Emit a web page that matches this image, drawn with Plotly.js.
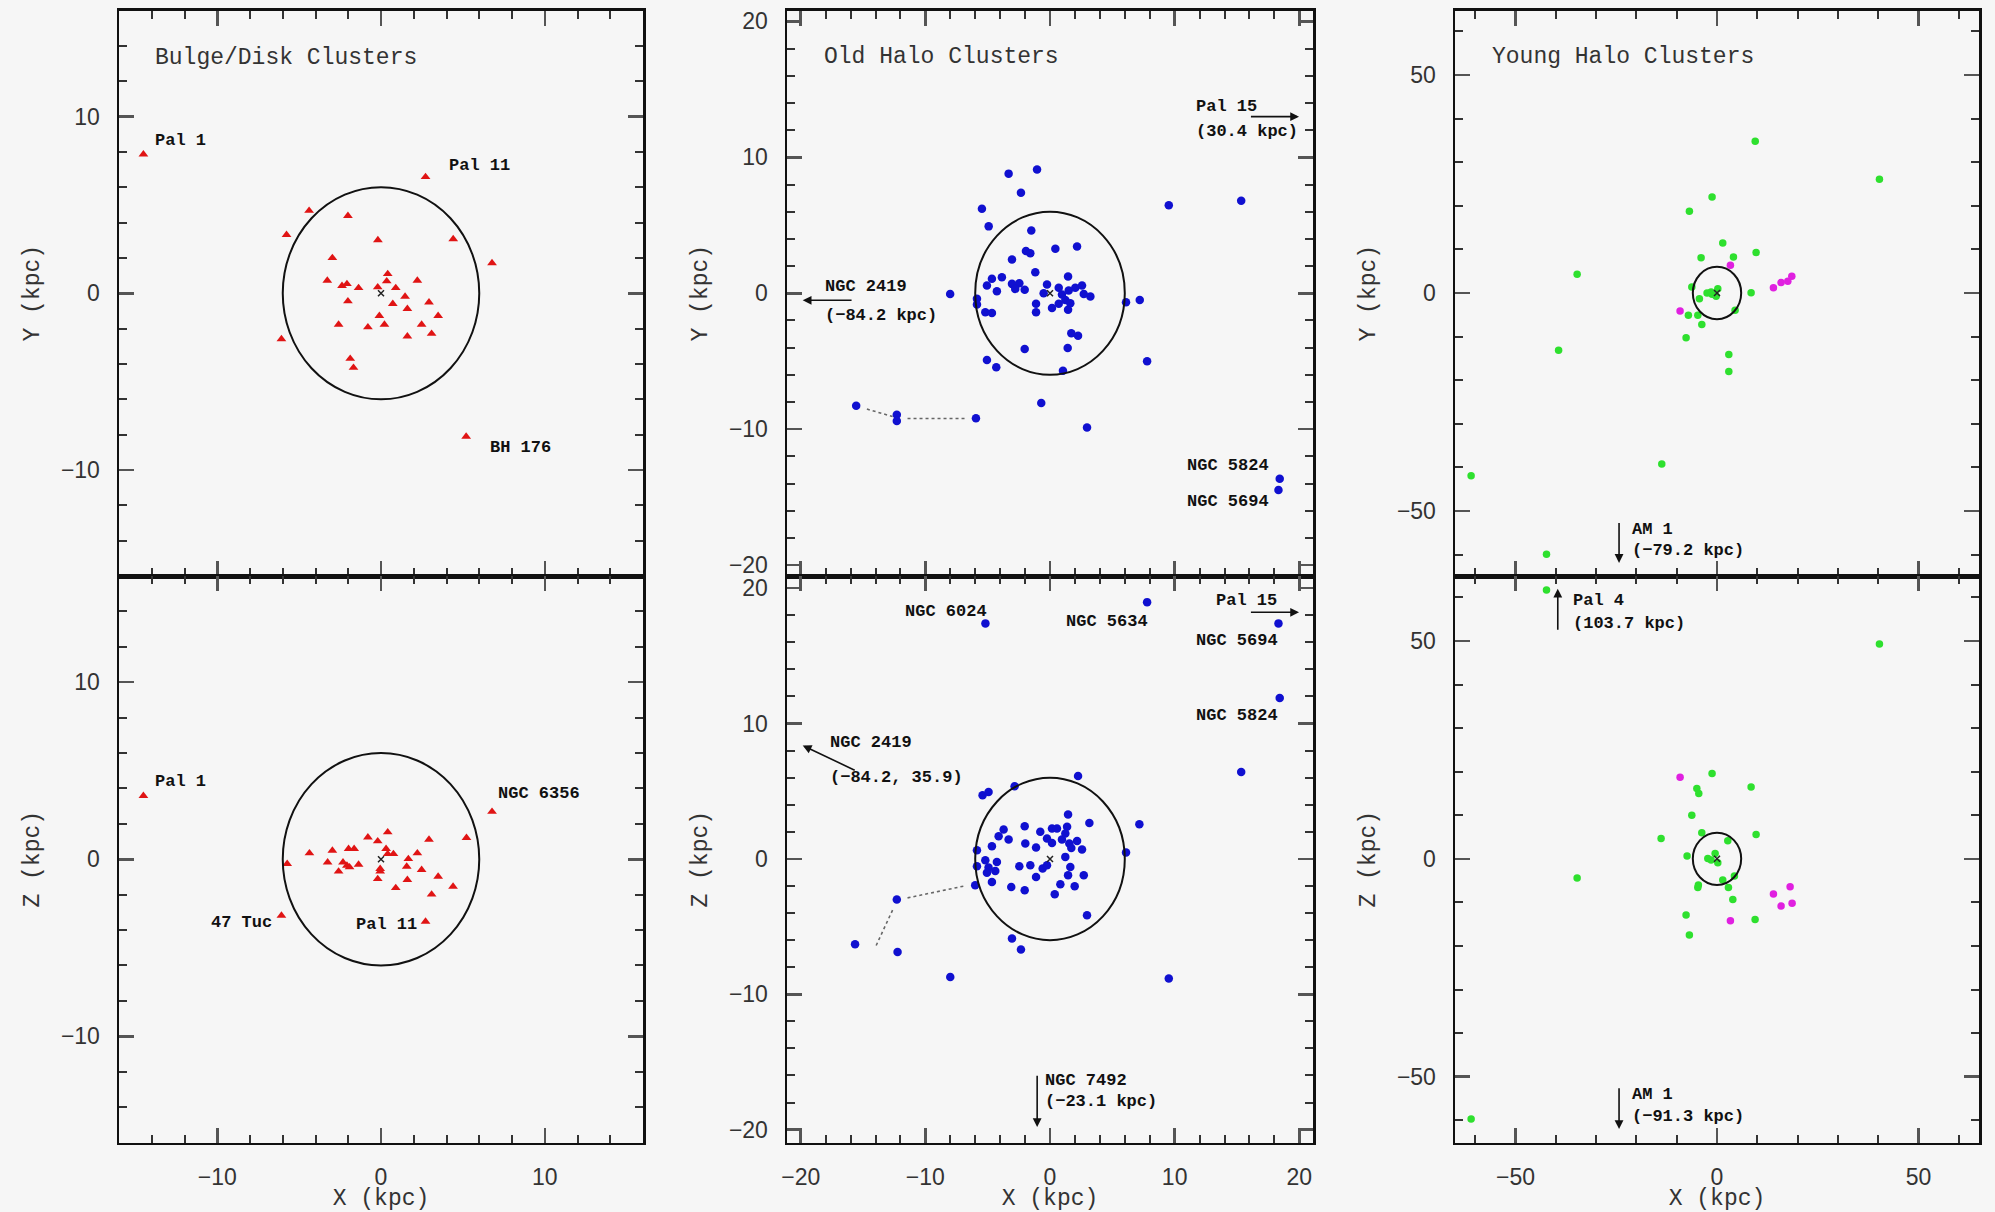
<!DOCTYPE html>
<html><head><meta charset="utf-8">
<script src="https://cdn.plot.ly/plotly-3.0.1.min.js"></script>
<style>html,body{margin:0;padding:0;background:#f6f6f6;} #chart{width:1995px;height:1212px;}</style>
</head><body><div id="chart"></div>
<script>
// ---------- DATA (kpc) ----------
// Bulge/Disk clusters
const bulgeXY_x = [2.72, -4.39, -2.02, -5.77, -0.19, 4.41, 6.78, -2.97, -3.28, -2.38, -2.08, -1.37, -0.20, 0.41, 0.35, 0.90, 2.22, 1.47, 2.93, -2.02, 0.72, 1.61, 3.49, -0.10, -2.59, -0.80, 0.21, 2.48, 3.09, 1.61, -6.08, -1.88, -1.68, -14.51, 5.20];
const bulgeXY_y = [6.58, 4.67, 4.38, 3.31, 3.01, 3.07, 1.71, 2.00, 0.72, 0.42, 0.53, 0.30, 0.34, 1.09, 0.68, 0.30, 0.72, -0.19, -0.51, -0.45, -0.60, -0.88, -1.28, -1.28, -1.77, -1.92, -1.77, -1.77, -2.29, -2.44, -2.59, -3.70, -4.21, 7.86, -8.11];
const bulgeXZ_x = [6.78, 0.41, -0.80, -0.20, 2.93, 5.22, -2.97, -1.98, -1.64, -4.37, 0.31, 0.41, 0.76, 2.22, -5.73, -3.26, -2.32, -2.08, -1.92, -1.37, -2.59, 1.67, 1.57, -0.05, -0.05, 2.48, -0.20, 1.61, 3.49, 4.40, 0.90, 3.09, 2.72, -6.08, -14.51];
const bulgeXZ_z = [2.69, 1.53, 1.24, 1.02, 1.11, 1.21, 0.49, 0.59, 0.59, 0.34, 0.59, 0.30, 0.30, 0.34, -0.26, -0.17, -0.17, -0.36, -0.45, -0.30, -0.69, 0.02, -0.41, -0.54, -0.69, -0.60, -1.11, -1.16, -0.98, -1.54, -1.62, -1.99, -3.52, -3.18, 3.58];

// Old halo clusters
const oldXY_x = [-3.32, -1.04, -2.33, -5.46, 9.53, -4.92, -1.50, -1.93, -1.58, 0.43, 2.17, -3.05, -1.18, 1.45, -4.66, -3.86, -5.06, -4.26, -3.05, -2.46, -2.03, -2.79, -8.01, -5.86, -5.86, -0.24, -0.51, 0.70, 0.96, 1.50, 2.03, 2.57, 3.24, 2.71, 1.23, 1.63, 0.70, 0.16, 1.45, -1.12, -1.12, -5.19, -4.66, 6.10, 7.20, 1.71, 2.25, -2.03, 1.42, -5.06, -4.31, 7.79, 1.04, -0.70, -5.94, 2.97, 15.34, 18.43, 18.33, -15.55, -12.29, -12.29];
const oldXY_y = [8.80, 9.10, 7.40, 6.22, 6.47, 4.92, 4.62, 3.10, 2.95, 3.27, 3.44, 2.49, 1.55, 1.23, 1.06, 1.18, 0.57, 0.15, 0.69, 0.74, 0.25, 0.32, -0.05, -0.41, -0.83, 0.64, 0.00, 0.40, -0.10, 0.20, 0.40, 0.57, -0.24, -0.05, -0.49, -0.74, -0.78, -1.08, -1.22, -0.78, -1.40, -1.40, -1.45, -0.66, -0.49, -2.95, -3.12, -4.10, -4.03, -4.91, -5.45, -5.01, -5.70, -8.08, -9.19, -9.88, 6.80, -13.65, -14.48, -8.27, -8.94, -9.40];
const oldXZ_x = [2.25, -2.84, -5.41, -4.93, 1.45, 3.16, 7.17, -3.72, -2.03, -4.12, -3.32, -0.78, 0.16, 0.56, 1.37, -0.24, 0.16, 0.96, 1.23, 1.55, 2.17, 1.71, 2.57, -1.98, -1.12, -4.66, -5.86, 1.23, 6.10, -5.19, -4.26, -5.86, -4.93, -4.39, -5.06, -2.46, -1.58, -0.59, -0.24, -1.12, 1.63, 1.45, 2.71, -4.66, -6.00, -3.11, -2.03, 0.83, 1.98, 0.38, 2.97, -12.29, -15.64, -12.23, -3.05, -2.33, -8.00, 9.53, -5.18, 7.79, 18.33, 18.43, 15.34];
const oldXZ_z = [6.13, 5.37, 4.71, 4.95, 3.28, 2.66, 2.56, 2.17, 2.42, 1.68, 1.43, 2.00, 2.25, 2.25, 2.37, 1.51, 1.18, 1.43, 1.88, 1.14, 1.33, 0.81, 0.69, 1.14, 0.84, 0.94, 0.64, 0.15, 0.47, -0.10, -0.22, -0.54, -0.64, -0.89, -1.03, -0.54, -0.47, -0.71, -0.47, -1.33, -0.59, -1.20, -1.20, -1.70, -1.94, -2.07, -2.31, -1.87, -2.02, -2.61, -4.16, -3.00, -6.30, -6.87, -5.88, -6.70, -8.72, -8.84, 17.40, 18.97, 17.40, 11.89, 6.42];
// Sgr-related connecting lines (old halo)
const oldXY_link1_x = [-14.69, -12.63], oldXY_link1_y = [-8.52, -9.07];
const oldXY_link2_x = [-11.43, -6.80],  oldXY_link2_y = [-9.21, -9.21];
const oldXZ_link1_x = [-11.43, -6.72],  oldXZ_link1_z = [-2.88, -1.97];
const oldXZ_link2_x = [-12.63, -14.00], oldXZ_link2_z = [-3.78, -6.50];

// Young halo clusters (green) and Sgr clusters (magenta)
const youngXY_x = [-1.22, -6.85, 1.43, -3.95, 4.08, 9.70, -6.25, 8.46, -2.46, -1.22, 0.20, -0.22, -1.46, -4.37, -7.10, -4.76, 4.49, -3.77, -7.67, 2.93, 2.93, 9.48, 40.3, -34.7, -39.3, -13.7, -61.0, -42.3];
const youngXY_y = [22.04, 18.76, 11.48, 8.12, 8.27, 9.27, 1.38, 0.09, 0.00, -0.30, 1.00, -0.76, 0.23, -1.29, -5.12, -5.12, -3.97, -7.19, -10.24, -14.07, -17.97, 34.8, 26.1, 4.3, -13.1, -39.2, -41.9, -59.9];
const sgrXY_x = [3.33, -9.16, 14.0, 15.9, 17.57, 18.56];
const sgrXY_y = [6.36, -4.13, 1.24, 2.39, 2.69, 3.83];
const youngXZ_x = [-1.22, -5.00, -4.52, 8.46, -6.25, -13.87, -3.77, 9.70, 2.68, -7.42, -2.28, -0.47, 0.20, -1.46, -4.62, -4.76, 1.43, 4.32, 2.84, 3.92, -7.67, 9.45, -6.85, 40.3, -34.7, -61.0, -42.3];
const youngXZ_z = [19.6, 16.15, 15.0, 16.5, 10.0, 4.68, 5.97, 5.6, 4.13, 0.62, 0.09, 1.24, -0.92, -0.30, -6.03, -6.57, -4.89, -3.97, -6.57, -9.32, -12.92, -13.9, -17.5, 49.3, -4.4, -59.7, 61.7];
const sgrXZ_x = [-9.16, 3.33, 14.0, 18.14, 15.9, 18.63];
const sgrXZ_z = [18.7, -14.2, -8.1, -6.4, -10.85, -10.2];

const circleRadius = 6;   // kpc
const panelTitles = ['Bulge/Disk Clusters', 'Old Halo Clusters', 'Young Halo Clusters'];

// ---------- STYLE ----------
const BG = '#f6f6f6';
const RED = '#e01414', BLUE = '#1010d0', GREEN = '#2ee02e', MAGENTA = '#e020e0';
const labFont = {family: 'Liberation Mono, DejaVu Sans Mono, monospace', size: 17, color: '#111', weight: 'bold'};
const titleFont = {family: 'Liberation Mono, DejaVu Sans Mono, monospace', size: 23, color: '#333'};
const tickFont = {family: 'Liberation Sans, Arial, sans-serif', size: 23, color: '#333'};

const colX = [[119/1995, 643/1995], [787/1995, 1313/1995], [1455/1995, 1979/1995]];
const rowTop = [1 - 576/1212, 1 - 10.5/1212];
const rowBot = [1 - 1142.5/1212, 1 - 576/1212];

function axis(range, dtick, mdtick, domain, anchor, showLabels, title) {
  const a = {
    range: range, domain: domain, anchor: anchor,
    showline: true, linecolor: '#111', linewidth: 2.5, mirror: 'allticks',
    ticks: 'inside', ticklen: 15, tickwidth: 2.5, tickcolor: '#555',
    dtick: dtick, tick0: 0,
    minor: {dtick: mdtick, tick0: 0, ticks: 'inside', ticklen: 8, tickwidth: 2, tickcolor: '#333', showgrid: false},
    showgrid: false, zeroline: false, fixedrange: true,
    showticklabels: showLabels, tickfont: tickFont, ticklabelstandoff: 12
  };
  if (title) a.title = {text: title, font: titleFont, standoff: title.startsWith('X') ? 10 : 15};
  return a;
}

const layout = {
  width: 1995, height: 1212, margin: {l: 0, r: 0, t: 0, b: 0},
  paper_bgcolor: BG, plot_bgcolor: BG, showlegend: false,
  xaxis:  axis([-16, 16], 10, 2, colX[0], 'y', false),
  yaxis:  axis([-16, 16], 10, 2, rowTop, 'x', true, 'Y (kpc)'),
  xaxis2: axis([-16, 16], 10, 2, colX[0], 'y2', true, 'X (kpc)'),
  yaxis2: axis([-16, 16], 10, 2, rowBot, 'x2', true, 'Z (kpc)'),
  xaxis3: axis([-21.1, 21.1], 10, 2, colX[1], 'y3', false),
  yaxis3: axis([-20.8, 20.8], 10, 2, rowTop, 'x3', true, 'Y (kpc)'),
  xaxis4: axis([-21.1, 21.1], 10, 2, colX[1], 'y4', true, 'X (kpc)'),
  yaxis4: axis([-20.95, 20.9], 10, 2, rowBot, 'x4', true, 'Z (kpc)'),
  xaxis5: axis([-65, 65], 50, 10, colX[2], 'y5', false),
  yaxis5: axis([-64.9, 64.8], 50, 10, rowTop, 'x5', true, 'Y (kpc)'),
  xaxis6: axis([-65, 65], 50, 10, colX[2], 'y6', true, 'X (kpc)'),
  yaxis6: axis([-65.1, 64.9], 50, 10, rowBot, 'x6', true, 'Z (kpc)'),
  shapes: [], annotations: []
};

const refs = [['x','y'],['x2','y2'],['x3','y3'],['x4','y4'],['x5','y5'],['x6','y6']];
refs.forEach(([xr, yr]) => layout.shapes.push({
  type: 'circle', xref: xr, yref: yr, x0: -circleRadius, x1: circleRadius, y0: -circleRadius, y1: circleRadius,
  line: {color: '#111', width: 2}
}));

function pts(x, y, i, color, symbol, size) {
  return {type: 'scatter', mode: 'markers', x: x, y: y, xaxis: refs[i][0], yaxis: refs[i][1],
    marker: {color: color, symbol: symbol, size: size, line: {width: 0}}, hoverinfo: 'skip'};
}
function link(x, y, i) {
  return {type: 'scatter', mode: 'lines', x: x, y: y, xaxis: refs[i][0], yaxis: refs[i][1],
    line: {color: '#666', width: 1.6, dash: 'dot'}, hoverinfo: 'skip'};
}
function centre(i) {
  return {type: 'scatter', mode: 'markers', x: [0], y: [0], xaxis: refs[i][0], yaxis: refs[i][1],
    marker: {symbol: 'x-thin', size: 6, color: '#222', line: {width: 1.5, color: '#222'}}, hoverinfo: 'skip'};
}

const data = [
  link(oldXY_link1_x, oldXY_link1_y, 2), link(oldXY_link2_x, oldXY_link2_y, 2),
  link(oldXZ_link1_x, oldXZ_link1_z, 3), link(oldXZ_link2_x, oldXZ_link2_z, 3),
  pts(bulgeXY_x, bulgeXY_y, 0, RED, 'triangle-up', 8.5),
  pts(bulgeXZ_x, bulgeXZ_z, 1, RED, 'triangle-up', 8.5),
  pts(oldXY_x, oldXY_y, 2, BLUE, 'circle', 8.5),
  pts(oldXZ_x, oldXZ_z, 3, BLUE, 'circle', 8.5),
  pts(youngXY_x, youngXY_y, 4, GREEN, 'circle', 7.5),
  pts(sgrXY_x, sgrXY_y, 4, MAGENTA, 'circle', 7.5),
  pts(youngXZ_x, youngXZ_z, 5, GREEN, 'circle', 7.5),
  pts(sgrXZ_x, sgrXZ_z, 5, MAGENTA, 'circle', 7.5),
  centre(0), centre(1), centre(2), centre(3), centre(4), centre(5)
];

function lab(i, text, x, y, anchor, font) {
  layout.annotations.push({xref: refs[i][0], yref: refs[i][1], x: x, y: y, text: text, showarrow: false,
    xanchor: anchor || 'left', yanchor: 'middle', font: font || labFont});
}
function arrow(i, x0, y0, x1, y1) {
  layout.annotations.push({xref: refs[i][0], yref: refs[i][1], axref: refs[i][0], ayref: refs[i][1],
    x: x1, y: y1, ax: x0, ay: y0, text: '', showarrow: true, arrowhead: 2, arrowsize: 1.1,
    arrowwidth: 1.6, arrowcolor: '#111', standoff: 0, startstandoff: 0});
}

// Panel titles
lab(0, panelTitles[0], -13.9, 13.29, 'left', titleFont);
lab(2, panelTitles[1], -18.29, 17.37, 'left', titleFont);
lab(4, panelTitles[2], -56.3, 54.06, 'left', titleFont);
// Bulge/disk labels
lab(0, 'Pal 1', -13.9, 8.66); lab(0, 'Pal 11', 4.02, 7.24); lab(0, 'BH 176', 6.53, -8.75);
lab(1, 'Pal 1', -13.9, 4.39); lab(1, 'NGC 6356', 7.04, 3.70);
lab(1, '47 Tuc', -6.53, -3.59, 'right'); lab(1, 'Pal 11', 2.30, -3.70, 'right');
// Old halo XY
lab(2, 'Pal 15', 11.57, 13.76); lab(2, '(30.4 kpc)', 11.57, 11.87); arrow(2, 16.0, 12.99, 19.98, 12.99);
lab(2, 'NGC 2419', -18.19, 0.5); lab(2, '(\u221284.2 kpc)', -18.19, -1.67); arrow(2, -15.8, -0.52, -19.84, -0.52);
lab(2, 'NGC 5824', 17.75, -12.68, 'right'); lab(2, 'NGC 5694', 17.75, -15.32, 'right');
// Old halo XZ
lab(3, 'NGC 6024', -4.9, 18.3, 'right'); lab(3, 'NGC 5634', 1.1, 17.55);
lab(3, 'Pal 15', 13.18, 19.07); arrow(3, 16.0, 18.22, 19.98, 18.22);
lab(3, 'NGC 5694', 11.57, 16.13); lab(3, 'NGC 5824', 11.57, 10.59);
lab(3, 'NGC 2419', -17.85, 8.62); lab(3, '(\u221284.2, 35.9)', -17.85, 6.05); arrow(3, -15.55, 6.5, -19.84, 8.38);
lab(3, 'NGC 7492', -0.55, -16.34); lab(3, '(\u221223.1 kpc)', -0.55, -17.95); arrow(3, -1.03, -15.9, -1.03, -19.8);
// Young halo
lab(4, 'AM 1', -21.6, -54.2); lab(4, '(\u221279.2 kpc)', -21.6, -59.1); arrow(4, -24.3, -52.4, -24.3, -61.9);
lab(5, 'Pal 4', -36.3, 59.2); lab(5, '(103.7 kpc)', -36.3, 54.0); arrow(5, -39.5, 52.2, -39.5, 62.0);
lab(5, 'AM 1', -21.6, -54.0); lab(5, '(\u221291.3 kpc)', -21.6, -59.2); arrow(5, -24.3, -52.3, -24.3, -62.0);

Plotly.newPlot('chart', data, layout, {displayModeBar: false, staticPlot: true});
</script></body></html>
